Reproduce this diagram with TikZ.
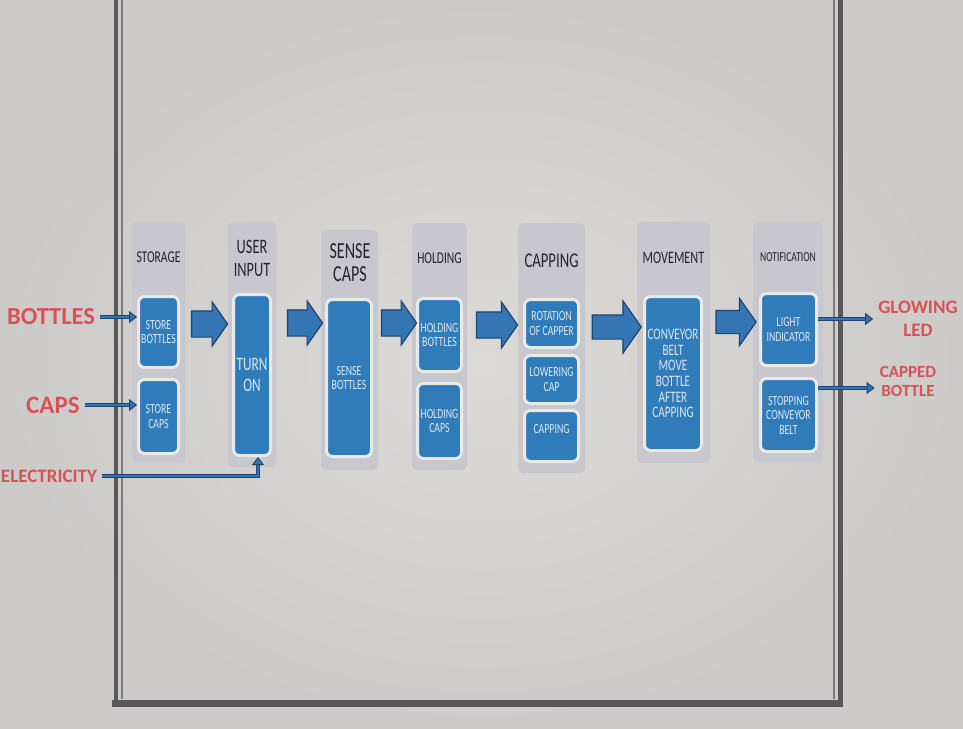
\documentclass[tikz,border=0pt]{standalone}
\usepackage{fontspec}
\setmainfont{Carlito}[FakeStretch=0.7]
\newfontfamily\redfont{Carlito}
\usepackage{tikz}
\usetikzlibrary{arrows.meta}
\usetikzlibrary{shapes.arrows}

\definecolor{bgin}{RGB}{220,218,215}
\definecolor{bgout}{RGB}{204,203,201}
\definecolor{panelgray}{RGB}{199,199,205}
\definecolor{boxblue}{RGB}{48,124,186}
\definecolor{boxrim}{RGB}{233,233,231}
\definecolor{boxtext}{RGB}{222,230,238}
\definecolor{titletext}{RGB}{35,35,40}
\definecolor{arrowblue}{RGB}{52,118,180}
\definecolor{arrowdark}{RGB}{30,68,112}
\definecolor{labelred}{RGB}{214,82,86}
\definecolor{framegray}{RGB}{88,88,90}

\begin{document}
\begin{tikzpicture}[x=1pt,y=-1pt,
    panel/.style={fill=panelgray,rounded corners=5pt,inner sep=0pt},
    box/.style={fill=boxblue,draw=boxrim,line width=3pt,rounded corners=6pt,inner sep=0pt,
        text=boxtext,align=center,font=\fontsize{14}{14.5}\selectfont},
    title/.style={text=titletext,align=center,inner sep=0pt},
    redtext/.style={text=labelred,align=center,inner sep=5pt},
    bigarrow/.style={single arrow,fill=arrowblue,draw=arrowdark,line width=1.2pt,inner xsep=0pt,
        inner ysep=12.5pt,minimum width=44pt,single arrow head extend=9pt,single arrow tip angle=110},
    flow/.style={draw=arrowdark,double=arrowblue,double distance=2.5pt,line width=1pt,
        -{Triangle[width=12pt,length=8pt,fill=arrowblue]}}]
    \useasboundingbox (0,0) rectangle (963,728);
    \shade [inner color=bgin,outer color=bgout] (0,0) rectangle (963,728);

    % frame
    \draw [framegray,line width=4.5pt] (116,0) -- (116,707);
    \draw [framegray!80,line width=1.5pt] (122,0) -- (122,699);
    \draw [framegray,line width=7pt] (112,703) -- (843,703);
    \draw [framegray!80,line width=2pt] (834,0) -- (834,699);
    \draw [framegray,line width=5pt] (840,0) -- (840,707);

    % panels
    \node [panel,minimum width=53pt,minimum height=241pt] (storage) at (158.5,342.5) {};
    \node [panel,minimum width=48pt,minimum height=245pt] (input) at (252,344.5) {};
    \node [panel,minimum width=57pt,minimum height=240pt] (sense) at (349.5,350) {};
    \node [panel,minimum width=55pt,minimum height=247pt] (holding) at (439.5,346.5) {};
    \node [panel,minimum width=67pt,minimum height=250pt] (capping) at (551.5,348) {};
    \node [panel,minimum width=73pt,minimum height=241pt] (movement) at (673.5,342.5) {};
    \node [panel,minimum width=70pt,minimum height=240pt] (notify) at (788,342) {};

    \node [title,font=\fontsize{16.5}{17}\selectfont] (storaget) at (158.5,257) {STORAGE};
    \node [title,font=\fontsize{20.5}{23}\selectfont] (inputt) at (252,258) {USER\\INPUT};
    \node [title,font=\fontsize{23}{23}\selectfont] (senset) at (350,263) {SENSE\\CAPS};
    \node [title,font=\fontsize{16.5}{17}\selectfont] (holdingt) at (439.5,258) {HOLDING};
    \node [title,font=\fontsize{21}{21}\selectfont] (cappingt) at (551.5,261) {CAPPING};
    \node [title,font=\fontsize{17.5}{18}\selectfont] (movementt) at (673.5,258) {MOVEMENT};
    \node [title,font=\fontsize{13.7}{14}\selectfont] (notifyt) at (788,257) {NOTIFICATION};

    % blue boxes
    \node [box,minimum width=40pt,minimum height=71pt] (sb) at (158.5,332) {STORE\\BOTTLES};
    \node [box,minimum width=40pt,minimum height=74pt] (sc) at (158.5,416.5) {STORE\\CAPS};
    \node [box,minimum width=37pt,minimum height=161pt,font=\fontsize{19}{21}\selectfont] (on) at (252,375) {TURN\\ON};
    \node [box,minimum width=45pt,minimum height=157pt] (sbo) at (349,378) {SENSE\\BOTTLES};
    \node [box,minimum width=44pt,minimum height=73pt] (hb) at (439.5,335) {HOLDING\\BOTTLES};
    \node [box,minimum width=44pt,minimum height=75pt] (hc) at (439.5,421) {HOLDING\\CAPS};
    \node [box,minimum width=54pt,minimum height=48pt] (rot) at (551.5,323.5) {ROTATION\\OF CAPPER};
    \node [box,minimum width=54pt,minimum height=48pt] (low) at (551.5,379.5) {LOWERING\\CAP};
    \node [box,minimum width=54pt,minimum height=51pt] (cap) at (551.5,436) {CAPPING\\\mbox{}};
    \node [box,minimum width=57pt,minimum height=154pt,font=\fontsize{16}{15.6}\selectfont] (conv) at (673,373.5)
        {CONVEYOR\\BELT\\MOVE\\BOTTLE\\AFTER\\CAPPING};
    \node [box,minimum width=56pt,minimum height=72pt] (li) at (788.5,329.5) {LIGHT\\INDICATOR};
    \node [box,minimum width=56pt,minimum height=73pt] (stop) at (788.5,415) {STOPPING\\CONVEYOR\\BELT};

    % block arrows
    \node [bigarrow,minimum height=36pt] (a1) at (205,324) {};
    \node [bigarrow,minimum height=35pt] (a2) at (300.5,323) {};
    \node [bigarrow,minimum height=35pt] (a3) at (394.5,323) {};
    \node [bigarrow,minimum height=41pt,single arrow head extend=10pt] (a4) at (492.5,325) {};
    \node [bigarrow,minimum height=49pt,inner ysep=11.5pt,single arrow head extend=14pt] (a5) at (612.5,327) {};
    \node [bigarrow,minimum height=40pt,inner ysep=11pt,single arrow head extend=12pt] (a6) at (732,322) {};

    % inputs and outputs
    \node [redtext,font=\redfont\bfseries\fontsize{24.5}{26}\selectfont] (bottles) at (51,317) {BOTTLES};
    \node [redtext,font=\redfont\bfseries\fontsize{25}{26}\selectfont] (caps) at (53,405) {CAPS};
    \node [redtext,font=\redfont\bfseries\fontsize{19}{20}\selectfont] (elec) at (49,476) {ELECTRICITY};
    \node [redtext,font=\redfont\bfseries\fontsize{19}{23}\selectfont] (glow) at (918,319) {GLOWING\\LED};
    \node [redtext,font=\redfont\bfseries\fontsize{17}{19}\selectfont] (capped) at (908,381) {CAPPED\\BOTTLE};

    \draw [flow] (bottles.east) -- (bottles.east -| sb.west);
    \draw [flow] (caps.east) -- (caps.east -| sc.west);
    \draw [flow] (elec.east) -| ([xshift=6pt]on.south);
    \draw [flow] (li.east |- glow.west) -- (glow.west);
    \draw [flow] ([yshift=27pt]stop.east) -- ([yshift=-7pt]capped.west);
\end{tikzpicture}
\end{document}
